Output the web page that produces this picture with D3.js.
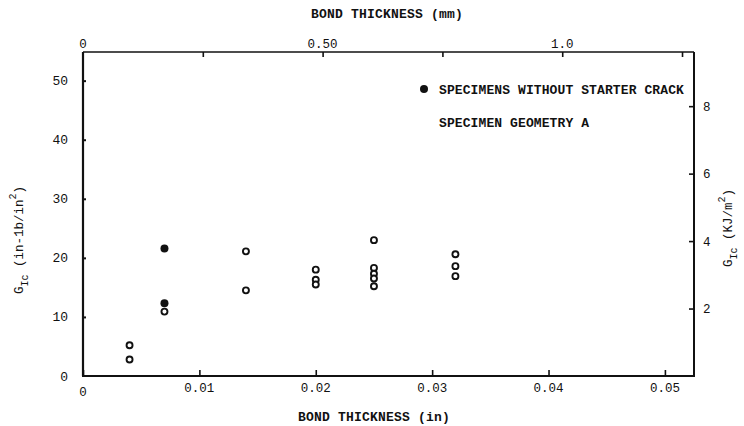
<!DOCTYPE html>
<html>
<head>
<meta charset="utf-8">
<script src="https://cdn.jsdelivr.net/npm/d3@7/dist/d3.min.js"></script>
<style>
  html, body { margin: 0; padding: 0; background: #fff; }
  svg { display: block; }
  text { font-family: "Liberation Mono", "DejaVu Sans Mono", monospace; fill: #111; }
</style>
</head>
<body>
<svg id="chart" width="744" height="426"></svg>
<script>
// Fracture energy G_Ic versus adhesive bond thickness
const openThickness = [0.004, 0.004, 0.007, 0.014, 0.014, 0.020, 0.020, 0.020,
                       0.025, 0.025, 0.025, 0.025, 0.025, 0.032, 0.032, 0.032];
const openGIc       = [5.2, 2.8, 10.9, 21.1, 14.5, 18.0, 16.3, 15.5,
                       23.0, 18.3, 17.3, 16.5, 15.2, 20.6, 18.6, 16.9];
// specimens without starter crack
const filledThickness = [0.007, 0.007];
const filledGIc       = [21.6, 12.3];

const xTicksIn   = [0, 0.01, 0.02, 0.03, 0.04, 0.05];
const xTickLabelsIn = ["0", "0.01", "0.02", "0.03", "0.04", "0.05"];
const xTicksMm   = [0, 0.25, 0.5, 0.75, 1.0, 1.25];
const xTickLabelsMm = ["0", "", "0.50", "", "1.0", ""];
const yTicksLeft = [0, 10, 20, 30, 40, 50];
const yTicksRight = [2, 4, 6, 8];
const KJ_PER_INLB = 0.17513; // 1 in-lb/in^2 = 0.17513 kJ/m^2

const svg = d3.select("#chart");
const L = 83, R = 694, T = 52, B = 376;

const x = d3.scaleLinear().domain([0, 0.0525]).range([L, R]);
const xMm = d3.scaleLinear().domain([0, 1.275]).range([L, R]);
const y = d3.scaleLinear().domain([0, 54.85]).range([B, T]);
const yKJ = d3.scaleLinear().domain([0, 54.85 * KJ_PER_INLB]).range([B, T]);

// frame
const frame = svg.append("g").attr("stroke", "#111").attr("fill", "none");
frame.append("line").attr("x1", L).attr("x2", L).attr("y1", T).attr("y2", B).attr("stroke-width", 2.2);
frame.append("line").attr("x1", L - 1).attr("x2", R + 1).attr("y1", B).attr("y2", B).attr("stroke-width", 2.2);
frame.append("line").attr("x1", L).attr("x2", R).attr("y1", T).attr("y2", T).attr("stroke-width", 1.6);
frame.append("line").attr("x1", R).attr("x2", R).attr("y1", T).attr("y2", B).attr("stroke-width", 2);

// bottom axis (in)
const axB = svg.append("g").attr("transform", `translate(0,${B})`)
  .call(d3.axisTop(x).tickValues(xTicksIn).tickSize(6).tickFormat(""));
axB.select(".domain").remove();
axB.selectAll("line").attr("stroke", "#111").attr("stroke-width", 1.6);
svg.append("g").selectAll("text").data(xTicksIn).join("text")
  .attr("x", d => x(d)).attr("y", (d, i) => i === 0 ? 396 : 392)
  .attr("text-anchor", "middle").attr("font-size", 12.5)
  .text((d, i) => xTickLabelsIn[i]);

// top axis (mm)
const axT = svg.append("g").attr("transform", `translate(0,${T})`)
  .call(d3.axisBottom(xMm).tickValues(xTicksMm.slice(1)).tickSize(5).tickFormat(""));
axT.select(".domain").remove();
axT.selectAll("line").attr("stroke", "#111").attr("stroke-width", 1.6);
svg.append("g").selectAll("text").data(xTicksMm).join("text")
  .attr("x", d => xMm(d)).attr("y", 48)
  .attr("text-anchor", "middle").attr("font-size", 12.5)
  .text((d, i) => xTickLabelsMm[i]);

// left axis (in-lb/in^2)
const axL = svg.append("g").attr("transform", `translate(${L},0)`)
  .call(d3.axisRight(y).tickValues(yTicksLeft.slice(1)).tickSize(3).tickFormat(""));
axL.select(".domain").remove();
axL.selectAll("line").attr("stroke", "#111").attr("stroke-width", 2);
svg.append("g").selectAll("text").data(yTicksLeft).join("text")
  .attr("x", 68).attr("y", d => y(d) + 4.5)
  .attr("text-anchor", "end").attr("font-size", 13)
  .text(d => d);

// right axis (kJ/m^2)
const axR = svg.append("g").attr("transform", `translate(${R},0)`)
  .call(d3.axisLeft(yKJ).tickValues(yTicksRight).tickSize(5).tickFormat(""));
axR.select(".domain").remove();
axR.selectAll("line").attr("stroke", "#111").attr("stroke-width", 1.6);
svg.append("g").selectAll("text").data(yTicksRight).join("text")
  .attr("x", 703).attr("y", d => yKJ(d) + 4.5)
  .attr("text-anchor", "start").attr("font-size", 12.5)
  .text(d => d);

// axis titles
svg.append("text").attr("x", 387).attr("y", 18).attr("text-anchor", "middle")
  .attr("font-size", 13).attr("letter-spacing", 0.2).attr("font-weight", "bold")
  .text("BOND THICKNESS (mm)");
svg.append("text").attr("x", 374).attr("y", 421).attr("text-anchor", "middle")
  .attr("font-size", 13).attr("letter-spacing", 0.2).attr("font-weight", "bold")
  .text("BOND THICKNESS (in)");

function gLabel(cx, cy, unit, sup, tail) {
  const t = svg.append("text").attr("transform", `translate(${cx},${cy}) rotate(-90)`)
    .attr("text-anchor", "middle").attr("font-size", 12.5);
  t.append("tspan").text("G");
  t.append("tspan").attr("dy", 5).attr("font-size", 10).text("Ic");
  t.append("tspan").attr("dy", -5).text("  " + unit);
  t.append("tspan").attr("dy", -7).attr("font-size", 10).text(sup);
  t.append("tspan").attr("dy", 7).text(tail);
}
gLabel(23, 240, "(in-1b/in", "2", ")");
gLabel(732, 228, "(KJ/m", "2", ")");

// data points
svg.append("g").selectAll("circle").data(openThickness).join("circle")
  .attr("cx", d => x(d)).attr("cy", (d, i) => y(openGIc[i])).attr("r", 3)
  .attr("fill", "#fff").attr("stroke", "#111").attr("stroke-width", 1.9);
svg.append("g").selectAll("circle").data(filledThickness).join("circle")
  .attr("cx", d => x(d)).attr("cy", (d, i) => y(filledGIc[i])).attr("r", 4)
  .attr("fill", "#111");

// legend
svg.append("circle").attr("cx", 424).attr("cy", 89).attr("r", 4).attr("fill", "#111");
svg.append("text").attr("x", 439).attr("y", 94).attr("font-size", 13)
  .attr("letter-spacing", 0.1).attr("font-weight", "bold")
  .text("SPECIMENS WITHOUT STARTER CRACK");
svg.append("text").attr("x", 439).attr("y", 126.5).attr("font-size", 13)
  .attr("letter-spacing", 0.1).attr("font-weight", "bold")
  .text("SPECIMEN GEOMETRY A");
</script>
</body>
</html>
